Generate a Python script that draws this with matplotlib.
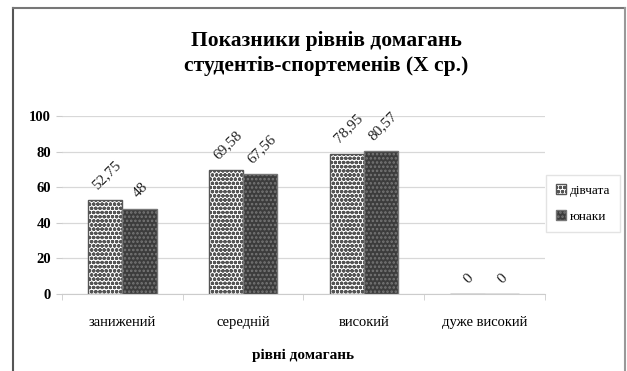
import matplotlib.pyplot as plt
from matplotlib.lines import Line2D
import numpy as np

plt.rcParams['font.family'] = ['Liberation Serif', 'DejaVu Serif']
plt.rcParams['hatch.linewidth'] = 1.2

categories = ['занижений', 'середній', 'високий', 'дуже високий']
girls = [52.75, 69.58, 78.95, 0]
boys = [48, 67.56, 80.57, 0]
girls_labels = ['52,75', '69,58', '78,95', '0']
boys_labels = ['48', '67,56', '80,57', '0']

fig = plt.figure(figsize=(6.27, 3.71), dpi=100)
ax = fig.add_axes([0.099, 0.2075, 0.77, 0.4795])

x = np.arange(len(categories))
w = 0.283
b1 = ax.bar(x - w / 2, girls, w, color='white', edgecolor='#555555',
            hatch='oooo', linewidth=1.0, label='дівчата')
b2 = ax.bar(x + w / 2, boys, w, color='#3c3c3c', edgecolor='#777777',
            hatch='....', linewidth=1.0, label='юнаки')

# rotated value labels above each bar
for xi, v, s in zip(x - w / 2, girls, girls_labels):
    ax.annotate(s, (xi, v), xytext=(1, 6), textcoords='offset points',
                rotation=45, ha='center', va='bottom', fontsize=11,
                color='#222222')
for xi, v, s in zip(x + w / 2, boys, boys_labels):
    ax.annotate(s, (xi, v), xytext=(1, 6), textcoords='offset points',
                rotation=45, ha='center', va='bottom', fontsize=11,
                color='#222222')

ax.set_xlim(-0.5, 3.5)
ax.set_ylim(0, 100)
ax.set_yticks(range(0, 101, 20))
ax.yaxis.grid(True, color='#d8d8d8', linewidth=0.9)
ax.set_axisbelow(True)
ax.set_xticks(x)
ax.set_xticklabels(categories, fontsize=10.5)
ax.set_xticks(np.arange(-0.5, 4, 1), minor=True)
ax.tick_params(axis='x', which='major', length=0, pad=16)
ax.tick_params(axis='x', which='minor', length=4, color='#cccccc')
ax.tick_params(axis='y', length=4, color='#cccccc', labelsize=10.5, pad=4)
for lbl in ax.get_yticklabels():
    lbl.set_fontweight('bold')
for side in ['top', 'right', 'left']:
    ax.spines[side].set_visible(False)
ax.spines['bottom'].set_color('#cccccc')

ax.set_xlabel('рівні домагань', fontweight='bold', fontsize=11, labelpad=14)
fig.text(0.52, 0.855, 'Показники рівнів домагань\nстудентів-спортеменів (X ср.)',
         ha='center', va='center', fontsize=15.5, fontweight='bold',
         linespacing=1.35)

leg = ax.legend(loc='center left', bbox_to_anchor=(0.995, 0.51), frameon=True,
                fontsize=9.5, handlelength=0.8, handleheight=0.8,
                handletextpad=0.3, borderpad=0.7, labelspacing=1.0,
                borderaxespad=0.3, fancybox=False)
leg.get_frame().set_edgecolor('#dddddd')

# outer chart frame
fw = 1 / 627
fh = 1 / 371
fig.add_artist(Line2D([13 * fw, 13 * fw], [0, 1 - 8 * fh], color='#555555', lw=1.5))
fig.add_artist(Line2D([13 * fw, 625 * fw], [1 - 8 * fh, 1 - 8 * fh], color='#777777', lw=1.5))
fig.add_artist(Line2D([625 * fw, 625 * fw], [0, 1 - 8 * fh], color='#999999', lw=1.5))

fig.savefig('out.png', dpi=100)
